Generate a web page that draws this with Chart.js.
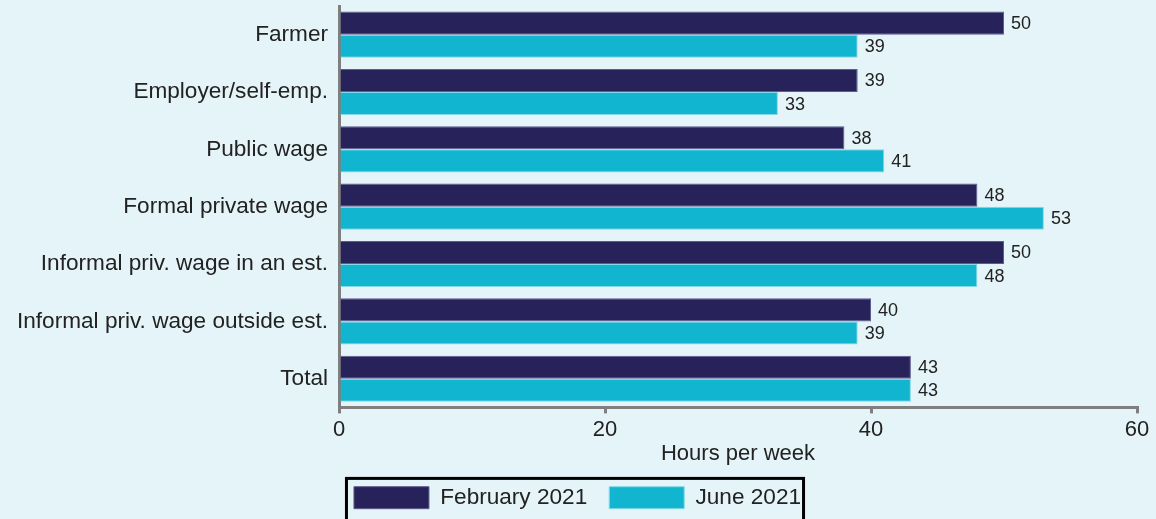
<!DOCTYPE html>
<html>
<head>
<meta charset="utf-8">
<script src="https://cdn.jsdelivr.net/npm/chart.js@4"></script>
<style>
  body { margin: 0; background: #e5f4f8; }
  #wrap { width: 1156px; height: 519px; position: relative; }
</style>
</head>
<body>
<div id="wrap"><canvas id="hoursChart"></canvas></div>
<script>
/* Data */
const categories = [
  'Farmer',
  'Employer/self-emp.',
  'Public wage',
  'Formal private wage',
  'Informal priv. wage in an est.',
  'Informal priv. wage outside est.',
  'Total'
];
const feb_2021 = [50, 39, 38, 48, 50, 40, 43];
const jun_2021 = [39, 33, 41, 53, 48, 39, 43];
const x_ticks = [0, 20, 40, 60];

const navy = '#27225a';
const cyan = '#12b5d0';
const axis_grey = '#7f7f7f';
const text_col = '#222222';

Chart.defaults.font.family = '"Liberation Sans", Arial, sans-serif';
Chart.defaults.color = text_col;

// value labels at the end of every bar
const barValueLabels = {
  id: 'barValueLabels',
  afterDatasetsDraw(chart) {
    const ctx = chart.ctx;
    ctx.save();
    ctx.font = '18px "Liberation Sans", Arial, sans-serif';
    ctx.fillStyle = text_col;
    ctx.textAlign = 'left';
    ctx.textBaseline = 'middle';
    chart.data.datasets.forEach((ds, i) => {
      chart.getDatasetMeta(i).data.forEach((bar, j) => {
        ctx.fillText(String(ds.data[j]), bar.x + 7, bar.y + 1);
      });
    });
    ctx.restore();
  }
};

// black frame round the legend
const legendFrame = {
  id: 'legendFrame',
  afterDraw(chart) {
    const boxes = chart.legend.legendHitBoxes;
    if (!boxes || !boxes.length) return;
    const first = boxes[0];
    const last = boxes[boxes.length - 1];
    const ctx = chart.ctx;
    ctx.save();
    ctx.strokeStyle = '#000';
    ctx.lineWidth = 3;
    const x0 = first.left - 7.5;
    const x1 = last.left + last.width + 2.5;
    const y0 = first.top - 8;
    ctx.strokeRect(x0, y0, x1 - x0, 60);
    ctx.restore();
  }
};

const data = {
  labels: categories,
  datasets: [
    {
      label: 'February 2021',
      data: feb_2021,
      backgroundColor: navy,
      borderColor: '#5f5c8e',
      borderWidth: 1
    },
    {
      label: 'June 2021',
      data: jun_2021,
      backgroundColor: cyan,
      borderColor: '#86d9e6',
      borderWidth: 1
    }
  ]
};

const ctx = document.getElementById('hoursChart').getContext('2d');
const hours_chart = new Chart(ctx, {
  type: 'bar',
  data: data,
  plugins: [barValueLabels, legendFrame],
  options: {
    indexAxis: 'y',
    responsive: true,
    maintainAspectRatio: false,
    animation: false,
    layout: { padding: { top: 6, right: 19, left: 18, bottom: 0 } },
    datasets: {
      bar: { categoryPercentage: 0.805, barPercentage: 1.0 }
    },
    scales: {
      x: {
        min: 0,
        max: 60,
        afterBuildTicks: (axis) => {
          axis.ticks = x_ticks.map(v => ({ value: v }));
        },
        afterFit: (axis) => { axis.height = 57; },
        grid: {
          drawOnChartArea: false,
          drawTicks: true,
          tickLength: 6,
          color: axis_grey,
          lineWidth: 3
        },
        border: { display: true, color: axis_grey, width: 3 },
        ticks: {
          font: { size: 22 },
          color: text_col,
          padding: 3,
          maxRotation: 0
        },
        title: {
          display: true,
          text: 'Hours per week',
          font: { size: 22 },
          color: text_col,
          padding: { top: 0, bottom: -3 }
        }
      },
      y: {
        afterFit: (axis) => {
          axis.width = 321;
          axis.paddingTop = 0;
          axis.paddingBottom = 0;
        },
        grid: { drawOnChartArea: false, drawTicks: false },
        border: { display: true, color: axis_grey, width: 3 },
        ticks: {
          font: { size: 22.6 },
          color: text_col,
          padding: 11
        }
      }
    },
    plugins: {
      legend: {
        position: 'bottom',
        labels: {
          boxWidth: 75,
          boxHeight: 22,
          padding: 22,
          font: { size: 22.6 },
          color: text_col
        }
      },
      tooltip: { enabled: false }
    }
  }
});
</script>
</body>
</html>
